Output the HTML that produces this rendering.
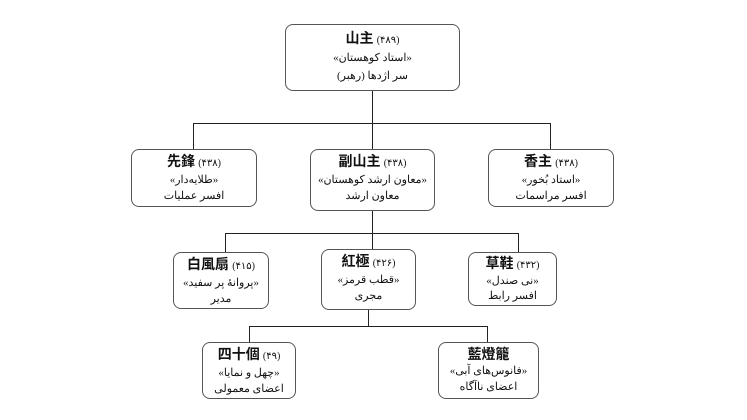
<!DOCTYPE html>
<html><head><meta charset="utf-8"><style>
body{margin:0;width:747px;height:420px;background:#fff;position:relative;overflow:hidden;font-family:"Liberation Serif","Noto Sans CJK SC",serif;}
.b{position:absolute;border:1px solid #555;border-radius:8px;background:#fff;text-align:center;box-sizing:border-box;color:#111;}
.t{font-family:"Noto Sans CJK TC",sans-serif;font-weight:bold;font-size:14px;line-height:17px;margin-top:3px}
.t span{font-family:"Liberation Serif",serif;font-weight:normal;font-size:10px}
.l{font-size:11px;line-height:16px;direction:rtl}
.h,.v{position:absolute;background:#222}
.h{height:1px}.v{width:1px}
</style></head><body>
<div class="v" style="left:372px;top:90px;height:33px"></div>
<div class="h" style="left:193px;top:123px;width:358px"></div>
<div class="v" style="left:193px;top:123px;height:26px"></div>
<div class="v" style="left:372px;top:123px;height:26px"></div>
<div class="v" style="left:550px;top:123px;height:26px"></div>
<div class="v" style="left:372px;top:210px;height:39px"></div>
<div class="h" style="left:225px;top:233px;width:294px"></div>
<div class="v" style="left:225px;top:233px;height:19px"></div>
<div class="v" style="left:518px;top:233px;height:19px"></div>
<div class="v" style="left:368px;top:310px;height:16px"></div>
<div class="h" style="left:249px;top:326px;width:239px"></div>
<div class="v" style="left:249px;top:326px;height:16px"></div>
<div class="v" style="left:487px;top:326px;height:16px"></div>

<div class="b" style="left:285px;top:24px;width:175px;height:67px"><div class="t" style="margin-top:5px">山主 <span>(۴۸۹)</span></div><div class="l" style="line-height:18px">«استاد کوهستان»</div><div class="l" style="line-height:18px">سر اژدها (رهبر)</div></div>
<div class="b" style="left:131px;top:149px;width:126px;height:58px"><div class="t">先鋒 <span>(۴۳۸)</span></div><div class="l">«طلایه‌دار»</div><div class="l">افسر عملیات</div></div>
<div class="b" style="left:310px;top:149px;width:125px;height:62px"><div class="t">副山主 <span>(۴۳۸)</span></div><div class="l">«معاون ارشد کوهستان»</div><div class="l">معاون ارشد</div></div>
<div class="b" style="left:488px;top:149px;width:126px;height:58px"><div class="t">香主 <span>(۴۳۸)</span></div><div class="l">«استاد بُخور»</div><div class="l">افسر مراسمات</div></div>
<div class="b" style="left:173px;top:252px;width:96px;height:57px"><div class="t">白風扇 <span>(۴۱۵)</span></div><div class="l">«پروانهٔ پر سفید»</div><div class="l">مدیر</div></div>
<div class="b" style="left:321px;top:249px;width:95px;height:61px"><div class="t">紅極 <span>(۴۲۶)</span></div><div class="l">«قطب قرمز»</div><div class="l">مجری</div></div>
<div class="b" style="left:468px;top:252px;width:89px;height:54px"><div class="t" style="margin-top:2px">草鞋 <span>(۴۳۲)</span></div><div class="l" style="line-height:15px">«نی صندل»</div><div class="l" style="line-height:15px">افسر رابط</div></div>
<div class="b" style="left:202px;top:342px;width:94px;height:57px"><div class="t">四十個 <span>(۴۹)</span></div><div class="l">«چهل و نمایا»</div><div class="l">اعضای معمولی</div></div>
<div class="b" style="left:438px;top:342px;width:101px;height:57px"><div class="t">藍燈籠</div><div class="l">«فانوس‌های آبی»</div><div class="l">اعضای ناآگاه</div></div>
</body></html>
